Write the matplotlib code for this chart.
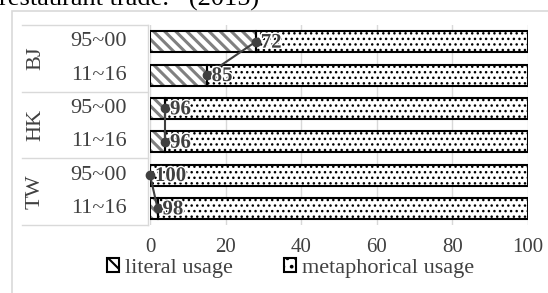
import numpy as np
import matplotlib
matplotlib.use('Agg')
import matplotlib.pyplot as plt
import matplotlib.patheffects as pe
from matplotlib.patches import Rectangle, Patch

plt.rcParams['font.family'] = ['Liberation Serif', 'DejaVu Serif']

# datos
grupos = ['BJ', 'HK', 'TW']
periodos = ['95~00', '11~16', '95~00', '11~16', '95~00', '11~16']
literal = [28, 15, 4, 4, 0, 2]
metaforico = [72, 85, 96, 96, 100, 98]

gris = '#404040'
fs = 16
fig = plt.figure(figsize=(5.48, 2.93), dpi=100)
ax = fig.add_axes([150/548, 1 - 225/293, 378/548, 200/293])

y = np.arange(len(periodos))
h = 0.63
# trama diagonal gris para uso literal
plt.rcParams['hatch.linewidth'] = 2.2
ax.barh(y, literal, height=h, color='white', edgecolor='#808080', hatch='\\\\\\', lw=0, zorder=2)
# trama de puntos para uso metafórico
plt.rcParams['hatch.linewidth'] = 1.0
ax.barh(y, metaforico, left=literal, height=h, color='white', edgecolor='black',
        hatch='...', lw=0, zorder=2)
# contornos negros
ax.barh(y, literal, height=h, fill=False, edgecolor='black', lw=1.5, zorder=3)
ax.barh(y, metaforico, left=literal, height=h, fill=False, edgecolor='black', lw=1.5, zorder=3)

# líneas entre periodos de cada grupo
for g in range(len(grupos)):
    i = 2 * g
    ax.plot(literal[i:i+2], y[i:i+2], '-o', color=gris, lw=1.5, ms=6, zorder=5, clip_on=False)

for i in range(len(periodos)):
    ax.text(literal[i] + 1.3, y[i] + 0.03, str(metaforico[i]), va='center', ha='left',
            fontsize=15, fontweight='bold', color=gris, zorder=6,
            path_effects=[pe.withStroke(linewidth=2, foreground='white')])

ax.set_xlim(0, 100)
ax.set_ylim(len(periodos) - 0.5, -0.5)
ax.set_xticks([0, 20, 40, 60, 80, 100])
ax.tick_params(axis='x', length=0, labelsize=15, labelcolor=gris, pad=9)
ax.set_yticks([])
ax.xaxis.grid(True, color='#d9d9d9', lw=1)
ax.set_axisbelow(True)
for s in ax.spines.values():
    s.set_visible(False)

# etiquetas de categoría
trans = ax.get_yaxis_transform()
for i, p in enumerate(periodos):
    ax.text(-0.135, y[i], p, transform=trans, ha='center', va='center',
            fontsize=fs, color=gris)
for g, nombre in enumerate(grupos):
    ax.text(-0.303, 2 * g + 0.5, nombre, transform=trans, ha='center', va='center',
            fontsize=fs, color=gris, rotation=90)
for yy in [-0.5, 1.5, 3.5, 5.5]:
    ax.plot([-0.339, -0.005], [yy, yy], transform=trans, color='#d9d9d9', lw=1, clip_on=False)
ax.plot([-0.005, -0.005], [-0.5, 5.5], transform=trans, color='#d9d9d9', lw=1, clip_on=False)

# marco del gráfico y título cortado
fig.patches.append(Rectangle((12/548, -0.1), 1, 1 - 11/293 + 0.1, transform=fig.transFigure,
                             fill=False, edgecolor='#d9d9d9', lw=1.2))
fig.text(-0.002, 1 - 6/293, 'restaurant trade.   (2015)', ha='left', va='baseline',
         fontsize=19, color='black')

plt.rcParams['hatch.linewidth'] = 1.5
handles = [Patch(facecolor='white', edgecolor='black', hatch='\\\\', lw=1.5),
           Patch(facecolor='white', edgecolor='black', hatch='..', lw=1.5)]
fig.legend(handles, ['literal usage', 'metaphorical usage'], loc='center',
           bbox_to_anchor=(0.53, 1 - 268/293), ncol=2, frameon=False, fontsize=fs,
           handlelength=0.55, handleheight=0.55, handletextpad=0.25, columnspacing=2.3,
           labelcolor=gris)

fig.savefig('out.png', dpi=100)
